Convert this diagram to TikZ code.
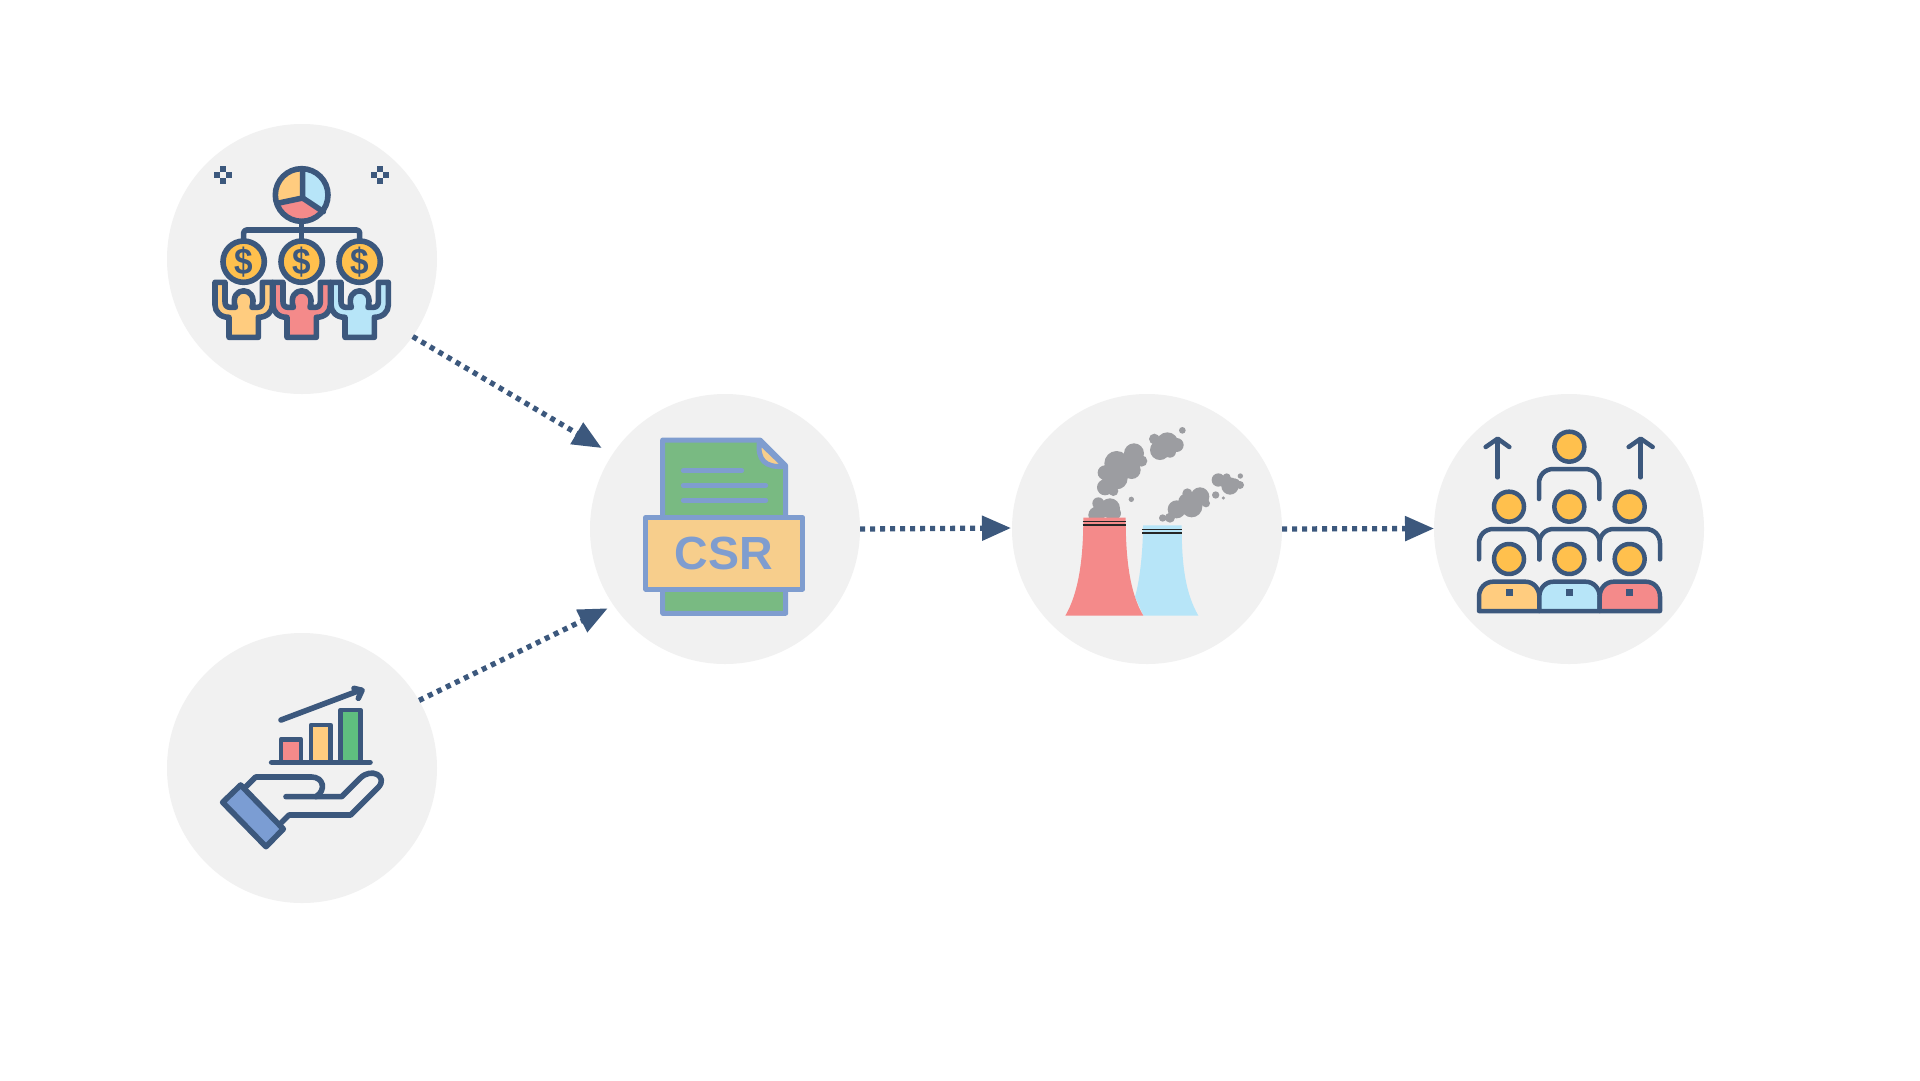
\documentclass[tikz,border=0pt]{standalone}
\usepackage{fontspec}
\setmainfont{Liberation Sans}
\usetikzlibrary{arrows.meta}
\definecolor{ink}{HTML}{3C587D}
\definecolor{disc}{HTML}{F1F1F1}
\definecolor{amber}{HTML}{FFC04D}
\definecolor{sand}{HTML}{FFCC7F}
\definecolor{sky}{HTML}{B7E5F8}
\definecolor{rose}{HTML}{F48A8A}
\definecolor{leaf}{HTML}{5FBF7F}
\definecolor{docgreen}{HTML}{79BA82}
\definecolor{docsand}{HTML}{F7CE8C}
\definecolor{periwinkle}{HTML}{7F9DCF}
\definecolor{cuff}{HTML}{7B9DD3}
\definecolor{smoke}{HTML}{9C9DA1}
\tikzset{
  bubble/.style={circle,fill=disc,draw=none,minimum size=270pt,inner sep=0pt},
  flow/.style={draw=ink,line width=5.3pt,dash pattern=on 5pt off 5pt,-{Triangle[length=29pt,width=24pt,fill=ink]}},
  icon/.style={draw=ink,line width=5.6pt,line join=round,line cap=round},
  thinicon/.style={draw=ink,line width=4.5pt,line join=round,line cap=round},
  docline/.style={draw=periwinkle,line width=5pt,line join=round,line cap=round},
  zoomA/.style={shift={(150,110)},x=0.33333pt,y=-0.33333pt},
  zoomB/.style={shift={(150,630)},x=0.33333pt,y=-0.33333pt},
  zoomC/.style={shift={(590,400)},x=0.33333pt,y=-0.33333pt},
  zoomD/.style={shift={(1020,400)},x=0.33333pt,y=-0.33333pt},
  zoomE/.style={shift={(1440,400)},x=0.33333pt,y=-0.33333pt},
  blackband/.style={draw=black!85,line width=1.3pt},
}
\begin{document}
\begin{tikzpicture}[x=1pt,y=-1pt]
\useasboundingbox (0,0) rectangle (1920,1080);
\fill[white] (0,0) rectangle (1920,1080);
% discs
\node[bubble] (funds) at (302,259) {};
\node[bubble] (growth) at (302,768) {};
\node[bubble] (csr) at (725,529) {};
\node[bubble] (plant) at (1147,529) {};
\node[bubble] (staff) at (1569,529) {};
% connector ends
\coordinate (tipA) at (601.7,448);
\coordinate (tipB) at (607.7,608.3);
\coordinate (tipC) at (1011,528);
\coordinate (tipD) at (1434,528.5);
\draw[flow] (funds.-35) -- (tipA);
\draw[flow] (growth.30.5) -- (tipB);
\draw[flow] (csr.0) -- (tipC);
\draw[flow] (plant.0) -- (tipD);

% ---- icon 1
\begin{scope}[zoomA]
  \foreach \mx in {219.5,690}{
    \fill[ink] (\mx,178) ++(-9,-9) rectangle ++(18,18);
    \fill[ink] (\mx-17.5,195) ++(-9,-9) rectangle ++(18,18);
    \fill[ink] (\mx+17.5,195) ++(-9,-9) rectangle ++(18,18);
    \fill[ink] (\mx,213) ++(-9,-9) rectangle ++(18,18);
  }
  % pie
  \begin{scope}
    \clip (455,255) circle[radius=79];
    \fill[sand] (458,264) -- (458,160) -- (360,160) -- (360,288) -- (382,280) -- cycle;
    \fill[sky] (458,264) -- (458,160) -- (550,160) -- (550,325) -- (520,305) -- cycle;
    \fill[rose] (458,264) -- (382,280) -- (340,295) -- (340,350) -- (550,350) -- (550,325) -- (520,305) -- cycle;
  \end{scope}
  \draw[icon] (455,255) circle[radius=79];
  \draw[icon] (458,180) -- (458,264) -- (382,280);
  \draw[icon] (458,264) -- (520,305);
  % tree
  \draw[icon,line cap=butt,rounded corners=3pt] (281,395) -- (281,360) -- (629,360) -- (629,395);
  \draw[icon,line cap=butt] (455,335) -- (455,395);
  % people
  \foreach \dx/\col in {0/sand,174/rose,348/sky}{
    \begin{scope}[xshift=\dx*0.33333pt]
      \draw[icon,fill=\col] (195,517) -- (225,517) -- (225,575) .. controls (225,585) and (230,592) .. (240,592) -- (256,592)
        .. controls (235,526) and (327,526) .. (306,592) -- (322,592) .. controls (332,592) and (337,585) .. (337,575) -- (337,517) -- (367,517) -- (367,585)
        .. controls (367,606) and (350,622) .. (325,622) -- (325,682) -- (237,682) -- (237,622) .. controls (212,622) and (195,606) .. (195,585) -- cycle;
    \end{scope}
  }
  % coins
  \foreach \cx/\nm in {281/a,455/b,629/c}{
    \draw[icon,fill=amber] (\cx,455) circle[radius=62];
    \node[text=ink,inner sep=0pt,xscale=0.9,font=\fontsize{37}{37}\selectfont\bfseries] (dollar\nm) at (\cx,455) {\$};
  }
\end{scope}

% ---- icon 2
\begin{scope}[zoomB]
  \draw[icon] (393,270) -- (632,180);
  \draw[icon] (612,175) -- (636,181) -- (625,205);
  \draw[thinicon,fill=rose] (393,397) -- (393,328) -- (453,328) -- (453,397);
  \draw[thinicon,fill=sand] (483,397) -- (483,285) -- (542,285) -- (542,397);
  \draw[thinicon,fill=leaf] (572,397) -- (572,240) -- (631,240) -- (631,397);
  \draw[icon] (365,397) -- (660,397);
  \draw[icon] (288,470) -- (317,441) -- (485,441) .. controls (520,441) and (530,480) .. (498,500);
  \draw[icon] (408,500) -- (575,500) -- (630,445) .. controls (665,410) and (715,440) .. (685,472) -- (602,555) -- (417,555) -- (392,580);
  \draw[icon,fill=cuff] (272,465) -- (400,597) -- (348,650) -- (218,517) -- cycle;
\end{scope}

% ---- icon 3
\begin{scope}[zoomC]
  \draw[docline,fill=docgreen] (218,120) -- (510,120) -- (587,197) -- (587,640) -- (218,640) -- cycle;
  \draw[docline,fill=docsand] (508,125) .. controls (502,180) and (525,204) .. (585,199) -- cycle;
  \draw[docline] (280,212) -- (455,212);
  \draw[docline] (280,256) -- (527,256);
  \draw[docline] (280,301) -- (527,301);
  \draw[docline,fill=docsand] (167,353) rectangle (638,567);
  \node[text=periwinkle,inner sep=0pt,font=\fontsize{46.5}{46.5}\selectfont\bfseries] (csrlabel) at (401,461) {CSR};
\end{scope}

% ---- icon 4
\begin{scope}[zoomD]
  \fill[smoke] \foreach \c/\d/\r in {235/310/18,270/325/30,230/345/25,285/340/18,
     290/190/37,342/160/30,365/183/17,335/210/27,255/218/22,290/235/33,255/262/24,280/273/15,310/200/30,
     403/117/16,442/130/33,420/150/30,470/135/21,450/155/18,487/91/10,334/298/8,
     428/354/11,450/353/15,470/328/27,502/280/15,515/320/32,540/290/28,558/310/12,500/305/25,
     595/240/20,620/232/12,630/258/26,660/255/12,645/250/15,661/228/8,587/285/11,610/294/5}
     {(\c,\d) circle[radius=\r]};
  \fill[sky] (369,376) -- (485,376) .. controls (485,500) and (497,580) .. (535,647) -- (370,647) -- (345,590) .. controls (360,540) and (369,450) .. cycle;
  \fill[rose] (190,353) -- (317,353) .. controls (317,480) and (330,580) .. (370,647) -- (136,647) .. controls (175,580) and (190,480) .. cycle;
  \draw[blackband] (188,365) -- (318,365);
  \draw[blackband] (188,375) -- (318,375);
  \draw[blackband] (367,388) -- (487,388);
  \draw[blackband,line width=1.8pt] (367,398) -- (487,398);
\end{scope}

% ---- icon 5
\begin{scope}[zoomE]
  \draw[thinicon] (173,232) -- (173,118);
  \draw[thinicon] (137,141) -- (173,116) -- (208,141);
  \draw[thinicon] (602,232) -- (602,118);
  \draw[thinicon] (566,141) -- (602,116) -- (638,141);
  \draw[thinicon] (297,297) -- (297,250) .. controls (297,225) and (315,207) .. (340,207) -- (435,207) .. controls (460,207) and (478,225) .. (478,250) -- (478,297);
  \foreach \dx in {0,181,362}{
    \begin{scope}[xshift=\dx*0.33333pt]
      \draw[thinicon] (117,478) -- (117,430) .. controls (117,405) and (135,387) .. (160,387) -- (255,387) .. controls (280,387) and (298,405) .. (298,430) -- (298,478);
    \end{scope}
  }
  \foreach \dx/\col in {0/sand,181/sky,362/rose}{
    \begin{scope}[xshift=\dx*0.33333pt]
      \draw[thinicon,fill=\col] (117,633) -- (117,590) .. controls (117,565) and (135,545) .. (160,545) -- (255,545) .. controls (280,545) and (298,565) .. (298,590) -- (298,633) -- cycle;
      \fill[ink] (197,567) rectangle (218,588);
      \draw[thinicon,fill=amber] (207,320) circle[radius=45];
      \draw[thinicon,fill=amber] (207,477) circle[radius=45];
    \end{scope}
  }
  \draw[thinicon,fill=amber] (388,140) circle[radius=45];
\end{scope}
\end{tikzpicture}
\end{document}
